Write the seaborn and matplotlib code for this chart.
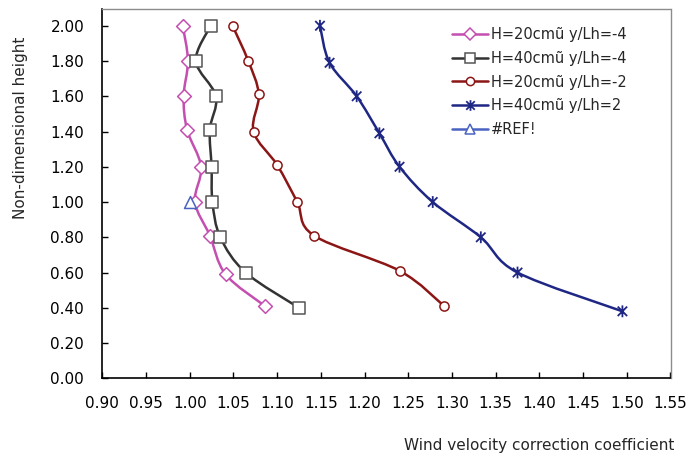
import numpy as np
import matplotlib
matplotlib.use("Agg")
import matplotlib.pyplot as plt
from matplotlib.path import Path
from matplotlib.patches import PathPatch
from matplotlib.lines import Line2D
import seaborn as sns

# ---- data ----
labels = ["H=20cmũ y/Lh=-4", "H=40cmũ y/Lh=-4", "H=20cmũ y/Lh=-2",
          "H=40cmũ y/Lh=2", "#REF!"]
x_pink = [0.992, 0.998, 0.993, 0.997, 1.013, 1.006, 1.023, 1.041, 1.086]
y_pink = [2.00, 1.80, 1.60, 1.41, 1.20, 1.00, 0.81, 0.59, 0.41]
x_black = [1.024, 1.007, 1.030, 1.023, 1.025, 1.026, 1.035, 1.064, 1.125]
y_black = [2.00, 1.80, 1.60, 1.41, 1.20, 1.00, 0.80, 0.60, 0.40]
x_red = [1.049, 1.067, 1.079, 1.073, 1.100, 1.123, 1.142, 1.240, 1.291]
y_red = [2.00, 1.80, 1.61, 1.40, 1.21, 1.00, 0.81, 0.61, 0.41]
x_navy = [1.149, 1.160, 1.191, 1.217, 1.240, 1.278, 1.333, 1.375, 1.495]
y_navy = [2.00, 1.79, 1.60, 1.39, 1.20, 1.00, 0.80, 0.60, 0.38]
x_ref = [1.00]
y_ref = [1.00]
x_ticks = [0.90, 0.95, 1.00, 1.05, 1.10, 1.15, 1.20, 1.25, 1.30, 1.35, 1.40, 1.45, 1.50, 1.55]
y_ticks = [0.00, 0.20, 0.40, 0.60, 0.80, 1.00, 1.20, 1.40, 1.60, 1.80, 2.00]

sns.set_style("ticks")
plt.rcParams['font.family'] = ['DejaVu Sans']

fig = plt.figure(figsize=(6.89, 4.61), dpi=100)
ax = fig.add_axes([102.3 / 689, 1 - 378.3 / 461, (670.5 - 102.3) / 689, (378.3 - 9) / 461])

star = Path([(-1, -1), (1, 1), (-1, 1), (1, -1), (0, -1.25), (0, 1.25)],
            [Path.MOVETO, Path.LINETO, Path.MOVETO, Path.LINETO, Path.MOVETO, Path.LINETO])

series = [
    (x_pink, y_pink, "#C44FB0", "D", 7.0, True),
    (x_black, y_black, "#333333", "s", 8.0, True),
    (x_red, y_red, "#8C1515", "o", 6.6, True),
    (x_navy, y_navy, "#1F2784", star, 8.5, True),
    (x_ref, y_ref, "#4A63C2", "^", 8.6, False),
]
edge_cols = ["#C44FB0", "#555555", "#8C1515", "#1F2784", "#4A63C2"]


def smooth_path(xs, ys):
    P = np.column_stack([xs, ys]).astype(float)
    n = len(P)
    verts = [P[0]]
    codes = [Path.MOVETO]
    for i in range(n - 1):
        p0 = P[i - 1] if i > 0 else P[i]
        p1 = P[i]
        p2 = P[i + 1]
        p3 = P[i + 2] if i + 2 < n else P[i + 1]
        c1 = p1 + (p2 - p0) / 6.0
        c2 = p2 - (p3 - p1) / 6.0
        verts += [c1, c2, p2]
        codes += [Path.CURVE4] * 3
    return Path(verts, codes)


handles = []
for k, (xs, ys, col, mk, ms, has_line) in enumerate(series):
    ec = edge_cols[k]
    if has_line:
        ax.add_patch(PathPatch(smooth_path(xs, ys), facecolor="none", edgecolor=col,
                               lw=1.8, zorder=2 + 2 * k, capstyle="round", joinstyle="round"))
    fc = "none" if mk is star else "white"
    sns.scatterplot(x=xs, y=ys, ax=ax, marker=mk, s=ms ** 2, facecolor=fc,
                    edgecolor=ec, linewidth=1.1 if mk is not star else 1.3,
                    zorder=3 + 2 * k, legend=False)
    handles.append(Line2D([], [], color=col, lw=1.8, marker=mk, markersize=ms * 0.9,
                          markerfacecolor=fc, markeredgecolor=ec,
                          markeredgewidth=1.1 if mk is not star else 1.3))

ax.set_xlim(0.90, 1.55)
ax.set_ylim(0.0, 2.095)
ax.set_xticks(x_ticks)
ax.set_yticks(y_ticks)
ax.set_xticklabels([f"{v:.2f}" for v in x_ticks])
ax.set_yticklabels([f"{v:.2f}" for v in y_ticks])
ax.tick_params(direction="in", length=4, width=1, color="black", labelsize=11,
               labelcolor="black")
ax.tick_params(axis="x", pad=13)
ax.tick_params(axis="y", pad=13)

for s in ["left", "bottom"]:
    ax.spines[s].set_color("black")
    ax.spines[s].set_linewidth(1.2)
for s in ["top", "right"]:
    ax.spines[s].set_visible(True)
    ax.spines[s].set_color("#8C8C8C")
    ax.spines[s].set_linewidth(1.0)

ax.set_xlabel("Wind velocity correction coefficient", fontsize=11, loc="right")
ax.xaxis.set_label_coords(1.006, -0.163)
ax.set_ylabel("Non-dimensional height", fontsize=11)
ax.yaxis.set_label_coords(-0.130, 0.678)

leg = ax.legend(handles, labels, loc="upper left",
                bbox_to_anchor=(451.5 / 689, 1 - 27 / 461), bbox_transform=fig.transFigure,
                frameon=False, fontsize=10.5, handlelength=2.5, handletextpad=0.2,
                labelspacing=0.6, borderpad=0, borderaxespad=0)

fig.savefig("out.png", dpi=100)
